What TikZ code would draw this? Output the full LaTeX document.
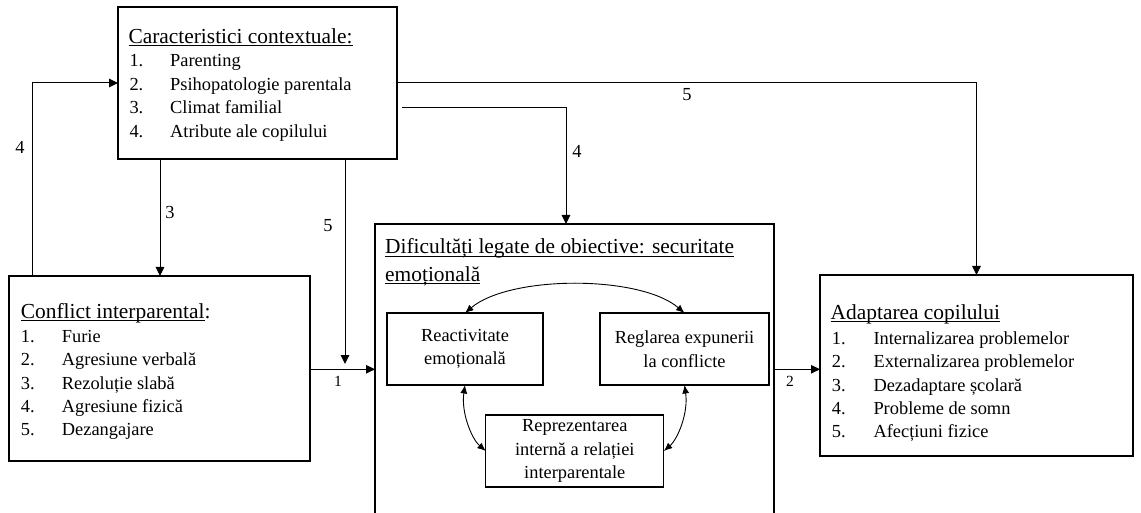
\documentclass[tikz,border=0pt]{standalone}
\usepackage{fontspec}
\setmainfont{Liberation Serif}
\usetikzlibrary{arrows.meta}
\newsavebox\ulbox
\newcommand\ulx[1]{\sbox\ulbox{#1}\rlap{\rule[-2.6pt]{\wd\ulbox}{0.9pt}}\usebox\ulbox}
\tikzset{
 box/.style={draw, line width=1.1pt, inner sep=0pt, outer sep=0pt},
 txt/.style={anchor=base west, inner sep=0pt, font=\fontsize{18.4}{23.4}\selectfont},
 ttl/.style={anchor=base west, inner sep=0pt, font=\fontsize{21.4}{27}\selectfont},
 lbl/.style={inner sep=0pt, font=\fontsize{18.4}{22}\selectfont},
 lbls/.style={inner sep=0pt, font=\fontsize{15.5}{18}\selectfont},
 arr/.style={line width=1pt, -{Triangle[length=9pt,width=8.5pt]}},
 darr/.style={line width=0.9pt, {Latex[length=8.5pt,width=7pt]}-{Latex[length=8.5pt,width=7pt]}},
 inbox/.style={box, align=center, font=\fontsize{18.4}{23.6}\selectfont}
}
\begin{document}
\begin{tikzpicture}[x=1pt,y=-1pt]
\useasboundingbox (0,0) rectangle (1141,513);
\clip (0,0) rectangle (1141,513);
% boxes
\node[box, minimum width=279pt, minimum height=152pt] (ctx) at (257.5,83) {};
\node[box, minimum width=301pt, minimum height=185pt] (conf) at (159.5,368.5) {};
\node[box, minimum width=399pt, minimum height=336pt] (dif) at (574.5,392) {};
\node[box, minimum width=313pt, minimum height=181pt] (adapt) at (976.5,365.5) {};
\node[inbox, minimum width=156pt, minimum height=72pt] (react) at (465,349) {Reactivitate\\emoțională};
\node[inbox, minimum width=169pt, minimum height=72pt] (regl) at (684.5,349) {Reglarea expunerii\\la conflicte};
\node[inbox, minimum width=178pt, minimum height=72pt] (repr) at (574.8,451) {Reprezentarea\\internă a relației\\interparentale};
% top box text
\node[ttl] (ctxT) at (128.3,43.5) {\ulx{Caracteristici contextuale:}};
\node[txt] (ctxN1) at (129.3,66.9) {1.};  \node[txt] (ctxI1) at (170,66.9) {Parenting};
\node[txt] (ctxN2) at (129.3,90.3) {2.};  \node[txt] (ctxI2) at (170,90.3) {Psihopatologie parentala};
\node[txt] (ctxN3) at (129.3,113.7) {3.}; \node[txt] (ctxI3) at (170,113.7) {Climat familial};
\node[txt] (ctxN4) at (129.3,137.1) {4.}; \node[txt] (ctxI4) at (170,137.1) {Atribute ale copilului};
% conflict text
\node[ttl] (confT) at (20.7,318.5) {\ulx{Conflict interparental}:};
\node[txt] (confN1) at (20.7,342.3) {1.}; \node[txt] (confI1) at (61.7,342.3) {Furie};
\node[txt] (confN2) at (20.7,365.6) {2.}; \node[txt] (confI2) at (61.7,365.6) {Agresiune verbală};
\node[txt] (confN3) at (20.7,389.0) {3.}; \node[txt] (confI3) at (61.7,389.0) {Rezoluție slabă};
\node[txt] (confN4) at (20.7,412.3) {4.}; \node[txt] (confI4) at (61.7,412.3) {Agresiune fizică};
\node[txt] (confN5) at (20.7,435.7) {5.}; \node[txt] (confI5) at (61.7,435.7) {Dezangajare};
% adaptation text
\node[ttl] (adT) at (830.5,319.5) {\ulx{Adaptarea copilului}};
\node[txt] (adN1) at (831.7,344.5) {1.}; \node[txt] (adI1) at (873.3,344.5) {Internalizarea problemelor};
\node[txt] (adN2) at (831.7,367.8) {2.}; \node[txt] (adI2) at (873.3,367.8) {Externalizarea problemelor};
\node[txt] (adN3) at (831.7,391.1) {3.}; \node[txt] (adI3) at (873.3,391.1) {Dezadaptare școlară};
\node[txt] (adN4) at (831.7,414.4) {4.}; \node[txt] (adI4) at (873.3,414.4) {Probleme de somn};
\node[txt] (adN5) at (831.7,437.7) {5.}; \node[txt] (adI5) at (873.3,437.7) {Afecțiuni fizice};
% difficulties title
\node[ttl] (difT1) at (385,254) {\ulx{Dificultăți legate de obiective: securitate}};
\node[ttl] (difT2) at (385,281) {\ulx{emoțională}};
% coordinates
\coordinate (c4) at (32,83);
\coordinate (c3) at (160,0);
\coordinate (c5) at (345,0);
\coordinate (e5) at (345,364);
\coordinate (s4) at (402,107.3);
\coordinate (k4) at (566,107.3);
\coordinate (c2) at (0,369.3);
% connectors
\draw[arr] (c4 |- conf.north) -- (c4) -- (c4 -| ctx.west);
\draw[arr] (c3 |- ctx.south) -- (c3 |- conf.north);
\draw[arr] (c5 |- ctx.south) -- (e5);
\draw[arr] (conf.east |- c2) -- (c2 -| dif.west);
\draw[arr] (c2 -| dif.east) -- (c2 -| adapt.west);
\draw[arr] (s4) -- (k4) -- (k4 |- dif.north);
\draw[arr] (ctx.east) -| (adapt.north);
% inner arrows
\draw[darr] (react.north) .. controls (510,275) and (640,275) .. (regl.north);
\draw[darr] (react.south) .. controls +(-4,28) and +(-14,-12) .. (repr.west);
\draw[darr] (regl.south) .. controls +(4,28) and +(14,-12) .. (repr.east);
% labels
\node[lbl] (l4a) at (20,147) {4};
\node[lbl] (l3) at (170,212) {3};
\node[lbl] (l5a) at (328,226) {5};
\node[lbl] (l4b) at (577,151) {4};
\node[lbl] (l5b) at (687,95) {5};
\node[lbls] (l1) at (338,381) {1};
\node[lbls] (l2) at (790,381) {2};
\end{tikzpicture}
\end{document}
